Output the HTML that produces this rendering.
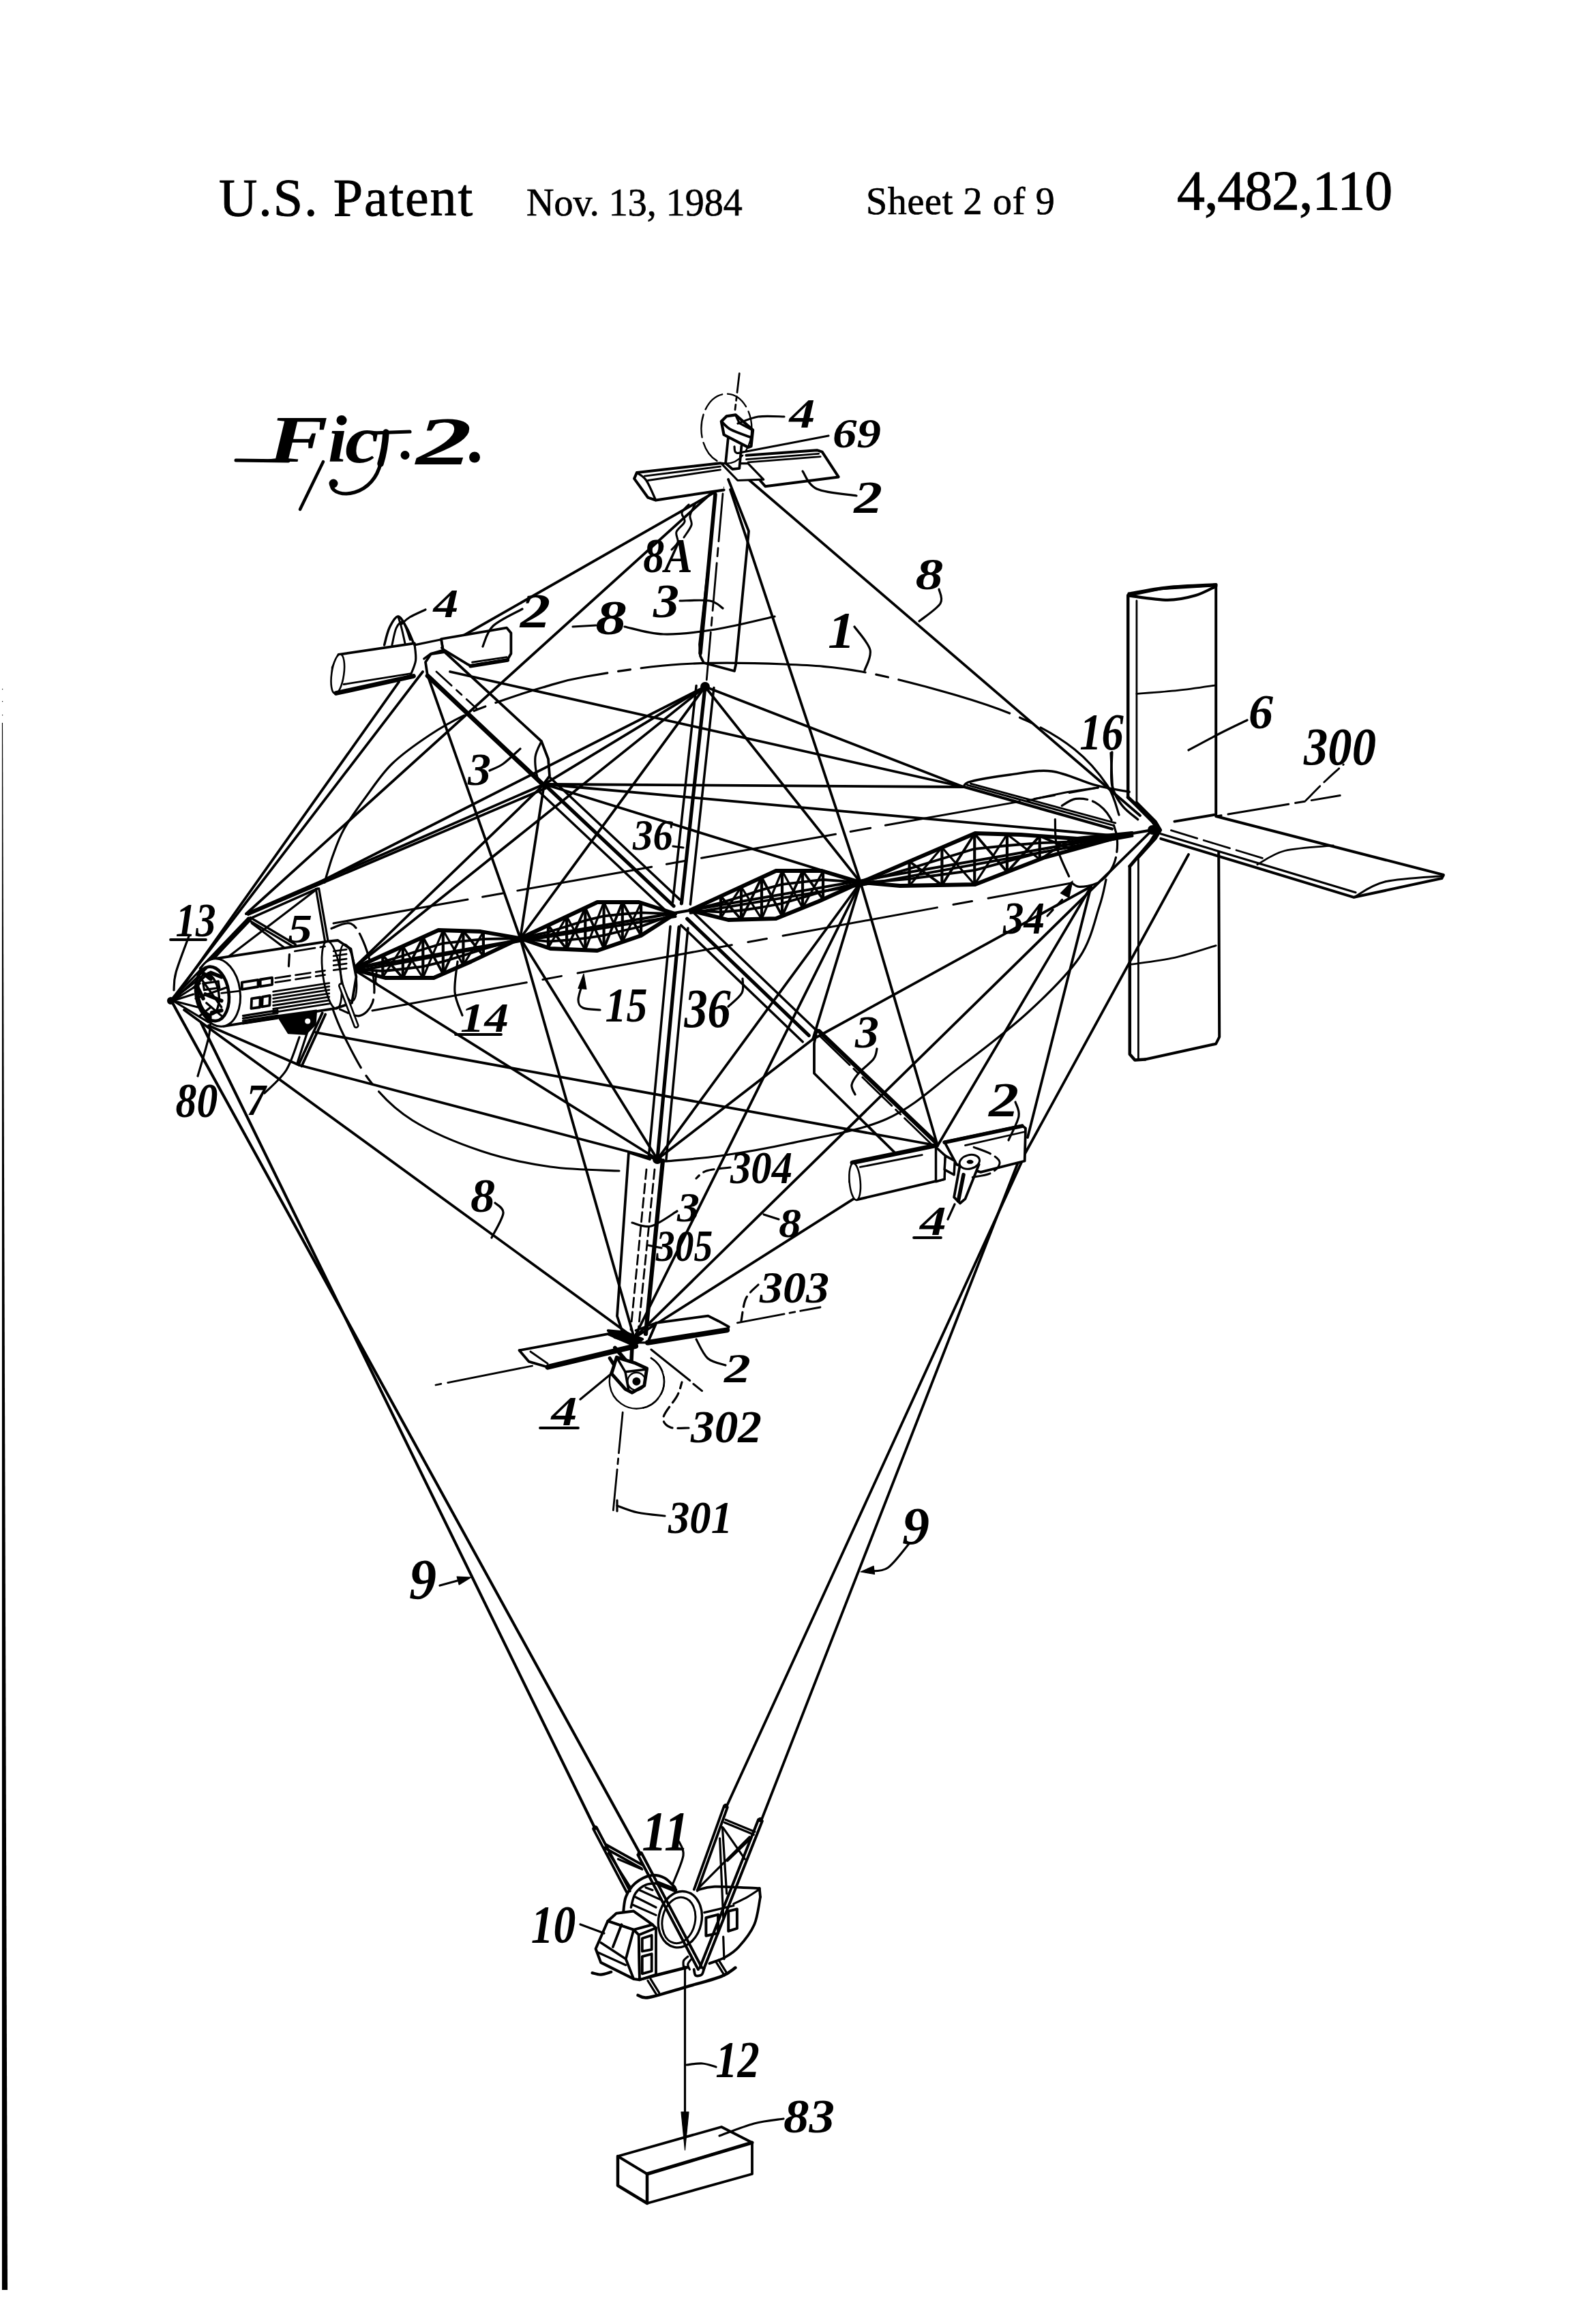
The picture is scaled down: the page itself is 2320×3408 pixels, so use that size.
<!DOCTYPE html>
<html><head><meta charset="utf-8"><title>US 4,482,110 Sheet 2</title>
<style>
html,body{margin:0;padding:0;background:#fff;}
body{width:2320px;height:3408px;position:relative;overflow:hidden;font-family:"Liberation Serif",serif;}
svg{position:absolute;left:0;top:0;}
svg text{font-family:"Liberation Serif",serif;fill:#000;stroke:none;}
.h{position:absolute;white-space:nowrap;color:#000;line-height:1;}
</style></head><body>

<div class="h" id="h1" style="left:321px;top:251px;font-size:78px;letter-spacing:1.9px;-webkit-text-stroke:0.9px #000;">U.S. Patent</div>
<div class="h" id="h2" style="left:772px;top:269px;font-size:56px;-webkit-text-stroke:0.7px #000;">Nov. 13, 1984</div>
<div class="h" id="h3" style="left:1270px;top:267px;font-size:56px;letter-spacing:0.7px;-webkit-text-stroke:0.7px #000;">Sheet 2 of 9</div>
<div class="h" id="h4" style="left:1726px;top:239px;font-size:82px;letter-spacing:-1.1px;-webkit-text-stroke:0.9px #000;">4,482,110</div>

<svg width="2320" height="3408" viewBox="0 0 2320 3408" fill="none" stroke="#000" stroke-linecap="round" stroke-linejoin="round">
<line x1="1060.0" y1="715.0" x2="648.0" y2="950.0" stroke-width="3.8" />
<line x1="1094.0" y1="700.0" x2="1672.0" y2="1196.0" stroke-width="3.8" />
<line x1="1050.0" y1="717.0" x2="361.0" y2="1340.0" stroke-width="3.8" />
<line x1="620.0" y1="985.0" x2="251.0" y2="1467.0" stroke-width="3.8" />
<line x1="585.0" y1="1000.0" x2="262.0" y2="1455.0" stroke-width="3.8" />
<line x1="930.0" y1="1962.0" x2="270.0" y2="1481.0" stroke-width="3.8" />
<line x1="1375.0" y1="1680.0" x2="463.0" y2="1514.0" stroke-width="3.8" />
<line x1="660.0" y1="985.0" x2="1413.0" y2="1154.0" stroke-width="3.8" />
<line x1="930.0" y1="1962.0" x2="1690.0" y2="1217.0" stroke-width="3.8" />
<line x1="1375.0" y1="1680.0" x2="1600.0" y2="1300.0" stroke-width="3.8" />
<line x1="627.0" y1="990.0" x2="763.0" y2="1376.0" stroke-width="3.8" />
<line x1="763.0" y1="1376.0" x2="930.0" y2="1962.0" stroke-width="3.8" />
<line x1="1071.0" y1="718.0" x2="1262.0" y2="1294.0" stroke-width="3.8" />
<line x1="1262.0" y1="1294.0" x2="1375.0" y2="1680.0" stroke-width="3.8" />
<line x1="930.0" y1="1962.0" x2="1375.0" y2="1680.0" stroke-width="3.8" />
<line x1="1034.0" y1="1007.0" x2="763.0" y2="1376.0" stroke-width="3.8" />
<line x1="1034.0" y1="1007.0" x2="1262.0" y2="1294.0" stroke-width="3.8" />
<line x1="798.0" y1="1150.0" x2="763.0" y2="1376.0" stroke-width="3.8" />
<line x1="798.0" y1="1150.0" x2="1262.0" y2="1294.0" stroke-width="3.8" />
<line x1="964.0" y1="1700.0" x2="763.0" y2="1376.0" stroke-width="3.8" />
<line x1="964.0" y1="1700.0" x2="1262.0" y2="1294.0" stroke-width="3.8" />
<line x1="1192.0" y1="1524.0" x2="1262.0" y2="1294.0" stroke-width="3.8" />
<line x1="1034.0" y1="1007.0" x2="798.0" y2="1150.0" stroke-width="3.8" />
<line x1="964.0" y1="1700.0" x2="1192.0" y2="1524.0" stroke-width="3.8" />
<line x1="1034.0" y1="1007.0" x2="1413.0" y2="1154.0" stroke-width="3.8" />
<line x1="798.0" y1="1150.0" x2="1413.0" y2="1154.0" stroke-width="3.8" />
<line x1="798.0" y1="1150.0" x2="1640.0" y2="1226.0" stroke-width="3.8" />
<line x1="1192.0" y1="1524.0" x2="1600.0" y2="1300.0" stroke-width="3.8" />
<line x1="1034.0" y1="1007.0" x2="468.0" y2="1294.0" stroke-width="3.8" />
<line x1="1034.0" y1="1007.0" x2="517.0" y2="1421.0" stroke-width="3.8" />
<line x1="798.0" y1="1150.0" x2="517.0" y2="1421.0" stroke-width="3.8" />
<line x1="964.0" y1="1700.0" x2="439.0" y2="1562.0" stroke-width="3.8" />
<line x1="306.0" y1="1504.0" x2="439.0" y2="1562.0" stroke-width="3.8" />
<line x1="930.0" y1="1962.0" x2="1262.0" y2="1294.0" stroke-width="3.8" />
<line x1="517.0" y1="1421.0" x2="964.0" y2="1700.0" stroke-width="3.8" />
<line x1="798.0" y1="1150.0" x2="361.0" y2="1340.0" stroke-width="3.8" />
<line x1="800.0" y1="1156.0" x2="364.0" y2="1341.0" stroke-width="3.8" />
<path d="M476.0,1294.0 C478.0,1287.5 483.2,1268.2 488.0,1255.0 C492.8,1241.8 496.8,1229.5 505.0,1215.0 C513.2,1200.5 525.3,1183.8 537.0,1168.0 C548.7,1152.2 559.5,1135.0 575.0,1120.0 C590.5,1105.0 611.7,1090.2 630.0,1078.0 C648.3,1065.8 666.7,1055.7 685.0,1047.0 C703.3,1038.3 721.5,1032.5 740.0,1026.0 C758.5,1019.5 776.0,1013.7 796.0,1008.0 C816.0,1002.3 826.3,997.7 860.0,992.0 C893.7,986.3 949.7,977.0 998.0,974.0 C1046.3,971.0 1105.7,972.2 1150.0,974.0 C1194.3,975.8 1221.7,977.3 1264.0,985.0 C1306.3,992.7 1364.0,1008.2 1404.0,1020.0 C1444.0,1031.8 1475.3,1042.8 1504.0,1056.0 C1532.7,1069.2 1556.0,1083.0 1576.0,1099.0 C1596.0,1115.0 1613.2,1136.0 1624.0,1152.0 C1634.8,1168.0 1638.2,1187.8 1641.0,1195.0" stroke-width="3.2" fill="none" stroke-dasharray="330 16 18 16 170 16 18 16"/>
<path d="M483.0,1466.0 C486.3,1474.3 492.8,1495.8 503.0,1516.0 C513.2,1536.2 527.0,1565.8 544.0,1587.0 C561.0,1608.2 578.0,1626.2 605.0,1643.0 C632.0,1659.8 672.3,1676.7 706.0,1688.0 C739.7,1699.3 773.3,1706.2 807.0,1711.0 C840.7,1715.8 891.2,1716.0 908.0,1717.0" stroke-width="3.2" fill="none" stroke-dasharray="110 14 16 14 600"/>
<path d="M975.0,1703.0 C988.5,1701.7 1025.7,1699.3 1056.0,1695.0 C1086.3,1690.7 1116.3,1686.0 1157.0,1677.0 C1197.7,1668.0 1258.5,1659.5 1300.0,1641.0 C1341.5,1622.5 1371.5,1592.0 1406.0,1566.0 C1440.5,1540.0 1477.5,1512.0 1507.0,1485.0 C1536.5,1458.0 1565.5,1429.8 1583.0,1404.0 C1600.5,1378.2 1605.5,1349.0 1612.0,1330.0 C1618.5,1311.0 1620.3,1296.7 1622.0,1290.0" stroke-width="3.2" fill="none" />
<line x1="489.0" y1="1354.0" x2="1610.0" y2="1155.0" stroke-width="3.0" stroke-dasharray="200 22 30 22"/>
<line x1="546.0" y1="1482.0" x2="1571.0" y2="1295.0" stroke-width="3.0" stroke-dasharray="230 24 28 24"/>
<line x1="517.0" y1="1421.0" x2="1690.0" y2="1217.0" stroke-width="4.0" />
<path d="M517.0,1421.0 L643.0,1364.0 L705.0,1366.0 L763.0,1376.0" stroke-width="5.8" fill="none" />
<path d="M517.0,1421.0 L565.0,1434.0 L636.0,1434.0 L691.0,1410.0 L763.0,1376.0" stroke-width="5.8" fill="none" />
<line x1="517.7" y1="1424.9" x2="763.7" y2="1379.9" stroke-width="3.8" />
<line x1="561.3" y1="1401.0" x2="561.3" y2="1433.0" stroke-width="4.2" />
<line x1="590.8" y1="1387.6" x2="590.8" y2="1434.0" stroke-width="4.2" />
<line x1="561.3" y1="1401.0" x2="590.8" y2="1434.0" stroke-width="3.8" />
<line x1="561.3" y1="1433.0" x2="590.8" y2="1387.6" stroke-width="3.2" />
<line x1="620.3" y1="1374.3" x2="620.3" y2="1434.0" stroke-width="4.2" />
<line x1="590.8" y1="1434.0" x2="620.3" y2="1374.3" stroke-width="3.8" />
<line x1="590.8" y1="1387.6" x2="620.3" y2="1434.0" stroke-width="3.2" />
<line x1="649.8" y1="1364.2" x2="649.8" y2="1428.0" stroke-width="4.2" />
<line x1="620.3" y1="1374.3" x2="649.8" y2="1428.0" stroke-width="3.8" />
<line x1="620.3" y1="1434.0" x2="649.8" y2="1364.2" stroke-width="3.2" />
<line x1="679.4" y1="1365.2" x2="679.4" y2="1415.1" stroke-width="4.2" />
<line x1="649.8" y1="1428.0" x2="679.4" y2="1365.2" stroke-width="3.8" />
<line x1="649.8" y1="1364.2" x2="679.4" y2="1415.1" stroke-width="3.2" />
<line x1="708.9" y1="1366.7" x2="708.9" y2="1401.6" stroke-width="4.2" />
<line x1="679.4" y1="1365.2" x2="708.9" y2="1401.6" stroke-width="3.8" />
<line x1="679.4" y1="1415.1" x2="708.9" y2="1366.7" stroke-width="3.2" />
<path d="M517.0,1421.0 L541.6,1415.2 L561.3,1410.6 L590.8,1401.5 L620.3,1392.2 L649.8,1383.3 L679.4,1380.1 L708.9,1377.1 L738.4,1376.5 L763.0,1376.0" stroke-width="3.8" fill="none" />
<path d="M517.0,1421.0 L541.6,1422.7 L561.3,1424.0 L590.8,1421.0 L620.3,1417.3 L649.8,1410.1 L679.4,1401.1 L708.9,1391.8 L738.4,1383.2 L763.0,1376.0" stroke-width="3.8" fill="none" />
<path d="M763.0,1376.0 L876.0,1323.0 L937.0,1323.0 L990.0,1340.0" stroke-width="5.8" fill="none" />
<path d="M763.0,1376.0 L807.0,1391.0 L876.0,1394.0 L940.0,1372.0 L990.0,1340.0" stroke-width="5.8" fill="none" />
<line x1="763.6" y1="1380.0" x2="990.6" y2="1344.0" stroke-width="3.8" />
<line x1="803.9" y1="1356.8" x2="803.9" y2="1389.9" stroke-width="4.2" />
<line x1="831.1" y1="1344.1" x2="831.1" y2="1392.0" stroke-width="4.2" />
<line x1="803.9" y1="1356.8" x2="831.1" y2="1392.0" stroke-width="3.8" />
<line x1="803.9" y1="1389.9" x2="831.1" y2="1344.1" stroke-width="3.2" />
<line x1="858.3" y1="1331.3" x2="858.3" y2="1393.2" stroke-width="4.2" />
<line x1="831.1" y1="1392.0" x2="858.3" y2="1331.3" stroke-width="3.8" />
<line x1="831.1" y1="1344.1" x2="858.3" y2="1393.2" stroke-width="3.2" />
<line x1="885.6" y1="1323.0" x2="885.6" y2="1390.7" stroke-width="4.2" />
<line x1="858.3" y1="1331.3" x2="885.6" y2="1390.7" stroke-width="3.8" />
<line x1="858.3" y1="1393.2" x2="885.6" y2="1323.0" stroke-width="3.2" />
<line x1="912.8" y1="1323.0" x2="912.8" y2="1381.3" stroke-width="4.2" />
<line x1="885.6" y1="1390.7" x2="912.8" y2="1323.0" stroke-width="3.8" />
<line x1="885.6" y1="1323.0" x2="912.8" y2="1381.3" stroke-width="3.2" />
<line x1="940.1" y1="1324.0" x2="940.1" y2="1372.0" stroke-width="4.2" />
<line x1="912.8" y1="1323.0" x2="940.1" y2="1372.0" stroke-width="3.8" />
<line x1="912.8" y1="1381.3" x2="940.1" y2="1324.0" stroke-width="3.2" />
<path d="M763.0,1376.0 L785.7,1370.9 L803.9,1366.8 L831.1,1358.5 L858.3,1349.9 L885.6,1343.3 L912.8,1340.5 L940.1,1338.4 L967.3,1339.3 L990.0,1340.0" stroke-width="3.8" fill="none" />
<path d="M763.0,1376.0 L785.7,1378.6 L803.9,1380.7 L831.1,1378.6 L858.3,1375.9 L885.6,1371.7 L912.8,1365.0 L940.1,1358.5 L967.3,1348.4 L990.0,1340.0" stroke-width="3.8" fill="none" />
<path d="M1012.0,1335.0 L1138.0,1277.0 L1205.0,1277.0 L1262.0,1294.0" stroke-width="5.8" fill="none" />
<path d="M1012.0,1335.0 L1068.0,1349.0 L1138.0,1347.0 L1200.0,1322.0 L1262.0,1294.0" stroke-width="5.8" fill="none" />
<line x1="1012.6" y1="1338.9" x2="1262.6" y2="1297.9" stroke-width="3.8" />
<line x1="1057.0" y1="1314.3" x2="1057.0" y2="1346.2" stroke-width="4.2" />
<line x1="1087.0" y1="1300.5" x2="1087.0" y2="1348.5" stroke-width="4.2" />
<line x1="1057.0" y1="1314.3" x2="1087.0" y2="1348.5" stroke-width="3.8" />
<line x1="1057.0" y1="1346.2" x2="1087.0" y2="1300.5" stroke-width="3.2" />
<line x1="1117.0" y1="1286.7" x2="1117.0" y2="1347.6" stroke-width="4.2" />
<line x1="1087.0" y1="1348.5" x2="1117.0" y2="1286.7" stroke-width="3.8" />
<line x1="1087.0" y1="1300.5" x2="1117.0" y2="1347.6" stroke-width="3.2" />
<line x1="1147.0" y1="1277.0" x2="1147.0" y2="1343.4" stroke-width="4.2" />
<line x1="1117.0" y1="1286.7" x2="1147.0" y2="1343.4" stroke-width="3.8" />
<line x1="1117.0" y1="1347.6" x2="1147.0" y2="1277.0" stroke-width="3.2" />
<line x1="1177.0" y1="1277.0" x2="1177.0" y2="1331.3" stroke-width="4.2" />
<line x1="1147.0" y1="1343.4" x2="1177.0" y2="1277.0" stroke-width="3.8" />
<line x1="1147.0" y1="1277.0" x2="1177.0" y2="1331.3" stroke-width="3.2" />
<line x1="1207.0" y1="1277.6" x2="1207.0" y2="1318.8" stroke-width="4.2" />
<line x1="1177.0" y1="1277.0" x2="1207.0" y2="1318.8" stroke-width="3.8" />
<line x1="1177.0" y1="1331.3" x2="1207.0" y2="1277.6" stroke-width="3.2" />
<path d="M1012.0,1335.0 L1037.0,1328.8 L1057.0,1323.9 L1087.0,1314.9 L1117.0,1304.9 L1147.0,1296.9 L1177.0,1293.3 L1207.0,1290.0 L1237.0,1292.2 L1262.0,1294.0" stroke-width="3.8" fill="none" />
<path d="M1012.0,1335.0 L1037.0,1336.3 L1057.0,1337.3 L1087.0,1335.0 L1117.0,1330.5 L1147.0,1324.8 L1177.0,1316.1 L1207.0,1307.3 L1237.0,1300.0 L1262.0,1294.0" stroke-width="3.8" fill="none" />
<path d="M1262.0,1294.0 L1430.0,1222.0 L1497.0,1224.0 L1580.0,1230.0 L1660.0,1222.0" stroke-width="5.8" fill="none" />
<path d="M1262.0,1294.0 L1320.0,1299.0 L1430.0,1297.0 L1530.0,1258.0 L1660.0,1222.0" stroke-width="5.8" fill="none" />
<line x1="1262.7" y1="1297.9" x2="1660.7" y2="1225.9" stroke-width="3.8" />
<line x1="1333.6" y1="1263.3" x2="1333.6" y2="1298.8" stroke-width="4.2" />
<line x1="1381.4" y1="1242.8" x2="1381.4" y2="1297.9" stroke-width="4.2" />
<line x1="1333.6" y1="1263.3" x2="1381.4" y2="1297.9" stroke-width="3.8" />
<line x1="1333.6" y1="1298.8" x2="1381.4" y2="1242.8" stroke-width="3.2" />
<line x1="1429.2" y1="1222.4" x2="1429.2" y2="1297.0" stroke-width="4.2" />
<line x1="1381.4" y1="1297.9" x2="1429.2" y2="1222.4" stroke-width="3.8" />
<line x1="1381.4" y1="1242.8" x2="1429.2" y2="1297.0" stroke-width="3.2" />
<line x1="1476.9" y1="1223.4" x2="1476.9" y2="1278.7" stroke-width="4.2" />
<line x1="1429.2" y1="1222.4" x2="1476.9" y2="1278.7" stroke-width="3.8" />
<line x1="1429.2" y1="1297.0" x2="1476.9" y2="1223.4" stroke-width="3.2" />
<line x1="1524.7" y1="1226.0" x2="1524.7" y2="1260.1" stroke-width="4.2" />
<line x1="1476.9" y1="1278.7" x2="1524.7" y2="1226.0" stroke-width="3.8" />
<line x1="1476.9" y1="1223.4" x2="1524.7" y2="1260.1" stroke-width="3.2" />
<line x1="1572.4" y1="1229.5" x2="1572.4" y2="1246.2" stroke-width="4.2" />
<line x1="1524.7" y1="1226.0" x2="1572.4" y2="1246.2" stroke-width="3.8" />
<line x1="1524.7" y1="1260.1" x2="1572.4" y2="1229.5" stroke-width="3.2" />
<path d="M1262.0,1294.0 L1301.8,1283.1 L1333.6,1273.9 L1381.4,1259.3 L1429.2,1244.8 L1476.9,1240.0 L1524.7,1236.2 L1572.4,1234.5 L1620.2,1228.1 L1660.0,1222.0" stroke-width="3.8" fill="none" />
<path d="M1262.0,1294.0 L1301.8,1291.7 L1333.6,1288.8 L1381.4,1282.5 L1429.2,1276.1 L1476.9,1263.2 L1524.7,1250.5 L1572.4,1241.5 L1620.2,1231.0 L1660.0,1222.0" stroke-width="3.8" fill="none" />
<line x1="986.5" y1="1323.4" x2="1021.1" y2="1005.6" stroke-width="3.5" />
<line x1="1012.4" y1="1326.2" x2="1046.9" y2="1008.4" stroke-width="3.5" />
<line x1="999.4" y1="1324.8" x2="1034.0" y2="1007.0" stroke-width="5.2" />
<line x1="979.1" y1="1338.1" x2="789.1" y2="1159.5" stroke-width="3.5" />
<line x1="996.9" y1="1319.1" x2="806.9" y2="1140.5" stroke-width="3.5" />
<line x1="988.0" y1="1328.6" x2="798.0" y2="1150.0" stroke-width="5.2" />
<line x1="1008.9" y1="1360.9" x2="976.9" y2="1701.2" stroke-width="3.5" />
<line x1="983.0" y1="1358.5" x2="951.1" y2="1698.8" stroke-width="3.5" />
<line x1="996.0" y1="1359.7" x2="964.0" y2="1700.0" stroke-width="5.2" />
<line x1="1016.7" y1="1337.9" x2="1195.2" y2="1509.0" stroke-width="3.5" />
<line x1="998.7" y1="1356.7" x2="1177.2" y2="1527.8" stroke-width="3.5" />
<line x1="1007.7" y1="1347.3" x2="1186.2" y2="1518.4" stroke-width="5.2" />
<circle cx="1034.0" cy="1007.0" r="7" fill="#000" stroke="none"/>
<circle cx="964.0" cy="1700.0" r="7" fill="#000" stroke="none"/>
<line x1="295.0" y1="1500.0" x2="872.0" y2="2680.0" stroke-width="4.1" />
<line x1="251.0" y1="1467.0" x2="938.0" y2="2717.0" stroke-width="4.1" />
<line x1="1501.0" y1="1698.0" x2="1066.0" y2="2648.0" stroke-width="3.8" />
<line x1="1494.0" y1="1702.0" x2="1117.0" y2="2668.0" stroke-width="3.8" />
<line x1="1743.0" y1="1253.0" x2="1503.0" y2="1692.0" stroke-width="3.8" />
<line x1="1600.0" y1="1300.0" x2="1507.0" y2="1668.0" stroke-width="3.8" />
<path d="M1049.0,725.0 L1040.0,820.0 L1026.0,945.0 L1027.0,962.0 L1032.0,972.0 L1077.0,984.0 L1079.0,975.0 L1098.0,779.0 L1068.0,703.0" stroke-width="3.8" fill="none" />
<line x1="1049.0" y1="725.0" x2="1027.0" y2="958.0" stroke-width="5.6" />
<line x1="1060.0" y1="724.0" x2="1036.0" y2="1000.0" stroke-width="2.8" stroke-dasharray="70 10 12 10"/>
<path d="M627.0,991.0 L624.0,971.0 L632.0,959.0 L652.0,956.0 L794.0,1087.0 L804.0,1113.0 L806.0,1138.0 L797.0,1150.0" stroke-width="3.8" fill="none" />
<path d="M794.0,1087.0 C792.5,1090.8 786.0,1101.2 785.0,1110.0 C784.0,1118.8 786.0,1133.0 788.0,1140.0 C790.0,1147.0 795.5,1150.0 797.0,1152.0" stroke-width="3.2" fill="none" />
<line x1="627.0" y1="991.0" x2="799.0" y2="1153.0" stroke-width="6.7" />
<line x1="640.0" y1="985.0" x2="700.0" y2="1040.0" stroke-width="2.8" stroke-dasharray="30 10 10 10"/>
<path d="M953.0,1700.0 L922.0,1690.0 L905.0,1930.0 L912.0,1951.0" stroke-width="3.8" fill="none" />
<line x1="972.0" y1="1702.0" x2="947.0" y2="1956.0" stroke-width="6.2" />
<line x1="948.0" y1="1715.0" x2="925.0" y2="1950.0" stroke-width="2.8" stroke-dasharray="14 7"/>
<line x1="960.0" y1="1715.0" x2="936.0" y2="1952.0" stroke-width="2.8" stroke-dasharray="14 7"/>
<path d="M1201.0,1512.0 L1198.0,1510.0 L1194.0,1530.0 L1194.0,1574.0 L1312.0,1690.0" stroke-width="3.8" fill="none" />
<line x1="1201.0" y1="1512.0" x2="1372.0" y2="1675.0" stroke-width="6.2" />
<line x1="1203.0" y1="1520.0" x2="1365.0" y2="1677.0" stroke-width="2.8" stroke-dasharray="60 8 10 8"/>
<path d="M1056.5,679.2 L933.9,693.1 L930.1,701.9 L950.3,729.7 L961.7,733.5 L1061.6,718.4" stroke-width="4.0" fill="#fff" />
<path d="M933.9,693.1 C936.2,695.0 943.2,697.7 947.8,704.5 C952.4,711.2 959.4,728.7 961.7,733.5" stroke-width="3.2" fill="none" />
<line x1="945.3" y1="698.1" x2="1056.5" y2="684.2" stroke-width="2.8" />
<line x1="950.3" y1="704.5" x2="1056.5" y2="688.8" stroke-width="2.8" />
<path d="M1094.5,667.8 L1198.1,660.2 L1205.7,662.7 L1229.7,699.4 L1122.3,713.3 L1105.8,694.3" stroke-width="4.0" fill="#fff" />
<line x1="1094.5" y1="673.6" x2="1200.7" y2="665.3" stroke-width="2.8" />
<line x1="1097.0" y1="677.9" x2="1203.2" y2="669.6" stroke-width="2.8" />
<path d="M1057.8,679.7 L1081.8,704.5 L1119.7,703.2 L1097.0,679.7 Z" stroke-width="3.2" fill="#fff" />
<path d="M1067.9,641.3 L1064.1,679.2 L1074.2,688.0 L1084.3,686.8 L1087.4,653.9" stroke-width="3.8" fill="#fff" />
<path d="M1057.8,618.0 L1065.4,610.4 L1078.8,608.4 L1104.1,630.6 L1101.5,654.4 L1097.0,655.9 L1061.6,637.5 Z" stroke-width="4.2" fill="#fff" />
<path d="M1058.6,618.5 C1060.8,620.4 1064.7,626.1 1071.7,629.9 C1078.7,633.7 1095.9,639.4 1100.8,641.3" stroke-width="3.8" fill="none" />
<path d="M1078.8,608.9 L1084.3,620.5 L1104.1,631.1" stroke-width="3.2" fill="none" />
<ellipse cx="1065.4" cy="628.6" rx="37" ry="51" stroke-width="2.4" stroke-dasharray="34 8" fill="none"/>
<line x1="1084.3" y1="547.7" x2="1078.0" y2="600.8" stroke-width="2.8" stroke-dasharray="28 6 6 6"/>
<path d="M563.6,945.9 C564.8,941.6 567.8,927.5 571.1,920.6 C574.5,913.6 579.6,904.1 583.8,904.1 C588.0,904.1 592.6,914.0 596.4,920.6 C600.2,927.1 604.9,939.5 606.5,943.3" stroke-width="3.5" fill="none" />
<path d="M574.9,945.9 C576.0,941.6 578.5,926.0 581.3,920.6 C584.0,915.1 588.0,910.0 591.4,913.0 C594.7,915.9 599.8,934.1 601.5,938.3" stroke-width="3.0" fill="none" />
<path d="M583.8,904.1 C584.6,906.9 587.2,914.0 588.8,920.6 C590.5,927.1 593.1,939.5 593.9,943.3" stroke-width="3.0" fill="none" />
<path d="M607.8,943.3 L496.5,959.8 L487.7,978.7 L487.2,1001.5 L492.8,1016.6 L606.5,991.4" stroke-width="3.8" fill="#fff" />
<ellipse cx="495.3" cy="988.3" rx="9" ry="29" transform="rotate(8 495.3 988.3)" stroke-width="2.6" fill="#fff"/>
<line x1="492.8" y1="1016.6" x2="606.5" y2="991.4" stroke-width="6.7" />
<line x1="504.1" y1="1003.5" x2="601.5" y2="987.8" stroke-width="2.8" />
<path d="M607.8,943.3 C608.1,947.5 610.6,960.6 609.6,968.6 C608.5,976.6 602.8,987.6 601.5,991.4" stroke-width="3.2" fill="none" />
<path d="M647.0,937.0 L743.1,920.6 L749.4,928.2 L749.4,958.5 L744.3,967.3 L690.0,976.2 L684.9,973.7 L649.5,952.2 Z" stroke-width="3.8" fill="#fff" />
<line x1="744.3" y1="967.9" x2="690.0" y2="976.7" stroke-width="5.6" />
<line x1="692.5" y1="971.1" x2="743.1" y2="963.6" stroke-width="2.8" />
<path d="M607.8,945.9 L647.0,937.8 L650.0,953.4 L631.8,958.5 L621.7,966.1" stroke-width="3.2" fill="none" />
<path d="M891.7,1956.2 L761.5,1980.2 L775.4,1996.6 L803.2,2004.7 L932.2,1973.9 Z" stroke-width="3.8" fill="#fff" />
<line x1="803.2" y1="2004.7" x2="932.2" y2="1973.9" stroke-width="7.8" />
<line x1="777.9" y1="1982.0" x2="803.2" y2="1999.7" stroke-width="2.8" />
<path d="M962.5,1939.8 L1038.4,1929.6 L1053.5,1937.2 L1068.7,1945.6 L1066.2,1950.4 L949.9,1968.8 Z" stroke-width="3.8" fill="#fff" />
<line x1="949.9" y1="1968.8" x2="1066.2" y2="1950.4" stroke-width="7.8" />
<path d="M891.7,1956.2 L922.0,1968.8 L949.9,1968.8 L962.5,1939.8 L932.2,1951.1" stroke-width="3.2" fill="none" />
<path d="M891.7,1951.1 L901.8,1961.3 L932.2,1971.4 L942.3,1963.8 L917.0,1953.7 Z" stroke-width="3.8" fill="#000" />
<line x1="901.8" y1="1976.4" x2="917.0" y2="1994.1" stroke-width="5.6" />
<line x1="927.1" y1="1971.4" x2="925.8" y2="1999.2" stroke-width="5.6" />
<line x1="894.2" y1="1991.6" x2="906.9" y2="2011.8" stroke-width="5.0" />
<path d="M904.3,1990.3 L932.2,1999.2 L948.6,2006.8 L944.8,2032.0 L927.1,2042.2 L917.0,2037.1 L896.8,2014.3 Z" stroke-width="4.9" fill="#fff" />
<path d="M904.3,1990.3 L917.0,2011.8 L948.6,2008.0" stroke-width="3.5" fill="none" />
<line x1="917.0" y1="2011.8" x2="922.0" y2="2039.6" stroke-width="3.5" />
<circle cx="933.4" cy="2025.7" r="6" fill="#000" stroke="none"/>
<circle cx="933.4" cy="2025.7" r="13" stroke-width="2.4" fill="none"/>
<path d="M901.8,2001.7 A40,40 0 1 0 954.9,1991.6" stroke-width="2.4"/>
<path d="M954.9,1991.6 A40,40 0 0 1 942.3,2064.9" stroke-width="2.4" stroke-dasharray="26 8"/>
<line x1="913.2" y1="2071.2" x2="899.0" y2="2218.0" stroke-width="2.8" stroke-dasharray="60 8 8 8"/>
<line x1="954.9" y1="1979.0" x2="1011.8" y2="2024.5" stroke-width="3.0" />
<line x1="1016.9" y1="2029.5" x2="1029.5" y2="2039.6" stroke-width="3.0" />
<line x1="1081.3" y1="1939.8" x2="1203.0" y2="1917.0" stroke-width="2.8" stroke-dasharray="70 8 8 8"/>
<line x1="639.0" y1="2031.0" x2="780.5" y2="2003.0" stroke-width="2.8" stroke-dasharray="8 10 200"/>
<path d="M1372.5,1679.7 L1249.9,1705.0 L1246.1,1732.8 L1256.2,1759.4 L1385.1,1729.1 Z" stroke-width="3.8" fill="#fff" />
<line x1="1249.9" y1="1705.0" x2="1372.5" y2="1679.7" stroke-width="6.7" />
<line x1="1261.3" y1="1711.4" x2="1352.3" y2="1693.7" stroke-width="2.8" />
<ellipse cx="1253.7" cy="1732.8" rx="8" ry="27" transform="rotate(-5 1253.7 1732.8)" stroke-width="2.6" fill="#fff"/>
<path d="M1385.1,1674.7 L1498.9,1650.7 L1504.0,1654.5 L1502.7,1702.5 L1438.2,1718.9 L1402.8,1707.6 Z" stroke-width="3.8" fill="#fff" />
<line x1="1385.1" y1="1675.2" x2="1498.9" y2="1651.2" stroke-width="5.6" />
<line x1="1415.5" y1="1679.7" x2="1501.5" y2="1660.0" stroke-width="2.8" />
<path d="M1372.5,1682.3 L1372.5,1732.8 L1385.1,1729.1 L1386.4,1694.9 Z" stroke-width="3.5" fill="#fff" />
<path d="M1386.4,1694.9 L1400.3,1702.5 L1399.1,1722.7 L1385.1,1715.1 Z" stroke-width="3.5" fill="#fff" />
<ellipse cx="1421.8" cy="1703.8" rx="14" ry="9" transform="rotate(-15 1421.8 1703.8)" stroke-width="3" fill="#fff"/>
<path d="M1407.9,1707.6 L1399.1,1755.6 L1407.9,1764.5 L1415.5,1758.1 L1435.7,1707.6" stroke-width="3.8" fill="#fff" />
<ellipse cx="1421.8" cy="1703.8" rx="15" ry="10" transform="rotate(-15 1421.8 1703.8)" stroke-width="3" fill="#fff"/>
<ellipse cx="1422.6" cy="1703.8" rx="5" ry="3" fill="#000" stroke="none"/>
<line x1="1413.0" y1="1722.7" x2="1405.4" y2="1760.7" stroke-width="5.6" />
<path d="M1428.1,1682.3 C1432.3,1684.0 1447.1,1688.6 1453.4,1692.4 C1459.7,1696.2 1466.1,1700.4 1466.1,1705.0 C1466.1,1709.7 1460.2,1716.6 1453.4,1720.2 C1446.7,1723.8 1430.2,1725.5 1425.6,1726.5" stroke-width="3.0" fill="none" stroke-dasharray="26 8"/>
<path d="M1654.2,873.3 L1654.2,1169.2 L1694.7,1209.6" stroke-width="4.5" fill="none" />
<path d="M1654.2,873.3 L1702.3,863.2 L1783.2,858.2 L1783.2,1194.4 L1722.5,1204.6" stroke-width="4.0" fill="none" />
<path d="M1654.2,873.3 C1663.9,874.4 1696.0,879.9 1712.4,879.9 C1728.8,879.9 1741.0,876.7 1752.8,873.3 C1764.6,870.0 1778.1,861.9 1783.2,859.7" stroke-width="4.2" fill="none" />
<path d="M1655.8,870.8 C1665.2,869.3 1691.2,863.9 1712.4,861.7 C1733.6,859.5 1771.4,858.3 1783.2,857.6" stroke-width="5.0" fill="none" />
<line x1="1666.9" y1="880.9" x2="1666.9" y2="1176.7" stroke-width="2.8" />
<path d="M1666.9,1017.4 C1677.0,1016.6 1708.2,1014.5 1727.6,1012.4 C1746.9,1010.3 1773.9,1006.1 1783.2,1004.8" stroke-width="2.8" fill="none" />
<path d="M1656.8,1270.3 L1656.8,1545.9 L1664.3,1554.5 L1679.5,1553.5" stroke-width="4.5" fill="none" />
<path d="M1787.2,1250.1 L1788.2,1520.6 L1783.2,1530.7 L1679.5,1553.5" stroke-width="4.0" fill="none" />
<line x1="1669.4" y1="1257.6" x2="1669.4" y2="1553.5" stroke-width="2.8" />
<path d="M1656.8,1414.4 C1667.7,1412.7 1701.4,1408.9 1722.5,1404.3 C1743.6,1399.7 1773.1,1389.5 1783.2,1386.6" stroke-width="2.8" fill="none" />
<path d="M1654.2,1169.2 L1687.1,1199.5 L1698.2,1217.2 L1687.1,1234.9 L1656.8,1270.3" stroke-width="5.0" fill="none" />
<path d="M1666.9,1176.7 L1694.7,1204.6 L1702.3,1217.2 L1694.7,1229.8 L1669.4,1257.6" stroke-width="3.8" fill="none" />
<path d="M1783.2,1197.0 L2116.9,1282.9 L2114.4,1288.0 L1985.5,1315.8 L1702.3,1229.8" stroke-width="4.0" fill="none" />
<line x1="1702.3" y1="1222.8" x2="1988.0" y2="1308.7" stroke-width="3.2" />
<line x1="1717.4" y1="1217.7" x2="1854.0" y2="1259.2" stroke-width="2.8" stroke-dasharray="40 10"/>
<path d="M1985.5,1315.8 C1993.0,1312.0 2009.1,1298.3 2031.0,1293.0 C2052.9,1287.8 2102.6,1285.9 2116.9,1284.5" stroke-width="3.0" fill="none" />
<path d="M1843.9,1267.8 C1850.6,1264.4 1865.8,1252.2 1884.3,1247.5 C1902.9,1242.9 1943.3,1241.2 1955.1,1239.9" stroke-width="2.8" fill="none" />
<line x1="1783.2" y1="1197.0" x2="1965.2" y2="1166.6" stroke-width="3.0" stroke-dasharray="8 10 90 10 14 10 200"/>
<path d="M1914.7,1174.2 C1919.7,1169.2 1935.7,1152.7 1945.0,1143.9 C1954.3,1135.0 1966.1,1124.9 1970.3,1121.1" stroke-width="2.8" fill="none" stroke-dasharray="30 8"/>
<circle cx="1690" cy="1217" r="7" fill="#000" stroke="none"/>
<path d="M1413.3,1153.7 C1415.0,1152.4 1412.1,1149.0 1423.4,1146.1 C1434.8,1143.1 1461.8,1138.5 1481.6,1136.0 C1501.4,1133.4 1521.6,1128.4 1542.3,1130.9 C1562.9,1133.4 1586.5,1146.1 1605.5,1151.1 C1624.5,1156.2 1647.6,1159.6 1656.1,1161.3" stroke-width="3.5" fill="none" />
<line x1="1413.3" y1="1153.7" x2="1630.8" y2="1215.6" stroke-width="4.2" />
<line x1="1418.4" y1="1151.1" x2="1633.3" y2="1210.6" stroke-width="3.0" />
<line x1="1423.4" y1="1149.1" x2="1635.8" y2="1206.8" stroke-width="2.8" />
<path d="M1506.9,1173.9 C1517.0,1171.8 1550.3,1164.4 1567.6,1161.3 C1584.8,1158.1 1603.4,1156.0 1610.5,1154.9" stroke-width="3.0" fill="none" />
<path d="M1630.8,1103.1 C1630.8,1111.1 1628.2,1138.1 1630.8,1151.1 C1633.3,1164.2 1639.6,1173.1 1645.9,1181.5 C1652.3,1189.9 1664.9,1198.3 1668.7,1201.7" stroke-width="3.5" fill="none" />
<path d="M1557.4,1181.5 C1560.8,1179.8 1569.7,1172.2 1577.7,1171.4 C1585.7,1170.5 1597.1,1171.8 1605.5,1176.4 C1613.9,1181.1 1622.8,1189.9 1628.2,1199.2 C1633.7,1208.4 1637.5,1220.7 1638.4,1232.0 C1639.2,1243.4 1637.5,1257.3 1633.3,1267.4 C1629.1,1277.6 1621.5,1287.3 1613.1,1292.7 C1604.6,1298.2 1590.3,1300.7 1582.7,1300.3 C1575.1,1299.9 1570.1,1291.9 1567.6,1290.2" stroke-width="3.2" fill="none" stroke-dasharray="40 8"/>
<path d="M1547.3,1201.7 C1547.8,1208.4 1546.5,1228.3 1549.9,1242.2 C1553.2,1256.1 1564.6,1278.0 1567.6,1285.1" stroke-width="3.2" fill="none" />
<line x1="364.8" y1="1349.3" x2="431.2" y2="1388.8" stroke-width="3.2" />
<line x1="367.0" y1="1345.5" x2="433.4" y2="1385.0" stroke-width="3.2" />
<line x1="364.3" y1="1345.9" x2="293.2" y2="1420.2" stroke-width="3.2" />
<line x1="367.5" y1="1348.9" x2="296.4" y2="1423.2" stroke-width="3.2" />
<line x1="463.3" y1="1303.5" x2="477.5" y2="1385.7" stroke-width="3.2" />
<line x1="467.6" y1="1302.8" x2="481.9" y2="1385.0" stroke-width="3.2" />
<line x1="365.9" y1="1347.4" x2="465.5" y2="1303.2" stroke-width="3.5" />
<line x1="365.9" y1="1347.4" x2="313.8" y2="1405.9" stroke-width="3.2" />
<line x1="369.1" y1="1353.7" x2="419.6" y2="1391.7" stroke-width="3.2" />
<line x1="251.0" y1="1467.0" x2="365.9" y2="1347.4" stroke-width="3.2" />
<line x1="251.0" y1="1467.0" x2="465.5" y2="1303.2" stroke-width="3.2" />
<line x1="472.7" y1="1485.4" x2="437.9" y2="1561.3" stroke-width="3.8" />
<line x1="477.2" y1="1487.5" x2="442.4" y2="1563.4" stroke-width="3.8" />
<line x1="454.4" y1="1502.3" x2="435.4" y2="1560.7" stroke-width="3.2" />
<path d="M315.3,1405.9 L479.7,1380.6 L495.5,1379.0 L514.5,1391.7 L522.4,1432.7 L516.0,1470.7 L492.3,1478.6 L328.0,1504.8 Z" stroke-width="3.8" fill="#fff" />
<path d="M407.0,1489.6 L463.9,1481.7 L462.3,1502.3 L448.1,1516.5 L422.8,1514.9 Z" stroke-width="2.5" fill="#000" />
<circle cx="451.2" cy="1497.5" r="4" fill="#fff" stroke="none"/>
<line x1="400.7" y1="1454.2" x2="482.8" y2="1441.6" stroke-width="2.8" />
<line x1="400.7" y1="1459.3" x2="482.8" y2="1446.6" stroke-width="2.8" />
<line x1="400.7" y1="1464.3" x2="482.8" y2="1451.7" stroke-width="2.8" />
<line x1="400.7" y1="1469.4" x2="482.8" y2="1456.8" stroke-width="2.8" />
<line x1="400.7" y1="1474.5" x2="482.8" y2="1461.8" stroke-width="2.8" />
<line x1="400.7" y1="1479.5" x2="482.8" y2="1466.9" stroke-width="2.8" />
<line x1="400.7" y1="1484.6" x2="482.8" y2="1471.9" stroke-width="2.8" />
<line x1="356.4" y1="1489.6" x2="407.0" y2="1481.7" stroke-width="3.2" />
<line x1="356.4" y1="1493.4" x2="407.0" y2="1485.5" stroke-width="3.2" />
<line x1="356.4" y1="1497.2" x2="407.0" y2="1489.3" stroke-width="3.2" />
<line x1="356.4" y1="1501.0" x2="407.0" y2="1493.1" stroke-width="3.2" />
<path d="M354.8,1440.6 L378.5,1436.9 L378.5,1447.0 L354.8,1450.8 Z" stroke-width="3.8" fill="none" />
<path d="M381.7,1436.5 L399.1,1433.7 L399.1,1443.8 L381.7,1446.6 Z" stroke-width="3.8" fill="none" />
<line x1="403.8" y1="1434.3" x2="476.5" y2="1423.3" stroke-width="2.8" stroke-dasharray="22 8"/>
<line x1="403.8" y1="1440.6" x2="476.5" y2="1429.6" stroke-width="2.8" stroke-dasharray="22 8"/>
<path d="M369.1,1464.3 L381.7,1462.5 L381.1,1477.0 L368.4,1478.9 Z" stroke-width="3.8" fill="none" />
<path d="M384.9,1461.8 L395.9,1459.9 L395.3,1474.5 L384.2,1476.4 Z" stroke-width="3.8" fill="none" />
<line x1="424.4" y1="1399.6" x2="423.4" y2="1416.9" stroke-width="3.2" />
<line x1="432.3" y1="1394.8" x2="476.5" y2="1387.9" stroke-width="2.8" stroke-dasharray="30 8"/>
<ellipse cx="486.6" cy="1429.6" rx="13.0" ry="50.0" transform="rotate(-8.0 486.6 1429.6)" stroke-width="2.8" fill="none" />
<ellipse cx="510.7" cy="1426.4" rx="11.0" ry="42.0" transform="rotate(-8.0 510.7 1426.4)" stroke-width="2.6" fill="none" />
<line x1="489.2" y1="1394.8" x2="508.1" y2="1392.3" stroke-width="2.8" />
<line x1="489.2" y1="1401.8" x2="508.1" y2="1399.2" stroke-width="2.8" />
<line x1="489.2" y1="1408.7" x2="508.1" y2="1406.2" stroke-width="2.8" />
<line x1="489.2" y1="1415.7" x2="508.1" y2="1413.1" stroke-width="2.8" />
<line x1="489.2" y1="1422.6" x2="508.1" y2="1420.1" stroke-width="2.8" />
<ellipse cx="320.1" cy="1455.5" rx="32.0" ry="50.0" transform="rotate(-8.0 320.1 1455.5)" stroke-width="3.0" fill="#fff" />
<ellipse cx="311.5" cy="1457.4" rx="24.0" ry="40.0" transform="rotate(-8.0 311.5 1457.4)" stroke-width="4.6" fill="#fff" />
<ellipse cx="305.9" cy="1458.0" rx="15.0" ry="30.0" transform="rotate(-8.0 305.9 1458.0)" stroke-width="3.4" fill="none" />
<line x1="293.2" y1="1432.7" x2="324.8" y2="1477.0" stroke-width="3.2" />
<line x1="286.9" y1="1464.3" x2="331.1" y2="1448.5" stroke-width="3.2" />
<line x1="298.0" y1="1442.2" x2="320.1" y2="1439.1" stroke-width="3.2" />
<line x1="298.0" y1="1442.2" x2="299.5" y2="1451.7" stroke-width="3.2" />
<line x1="320.1" y1="1439.1" x2="321.7" y2="1448.5" stroke-width="3.2" />
<line x1="299.5" y1="1451.7" x2="321.7" y2="1448.5" stroke-width="3.2" />
<line x1="302.7" y1="1470.7" x2="324.8" y2="1489.6" stroke-width="3.2" />
<line x1="293.2" y1="1489.6" x2="309.0" y2="1477.0" stroke-width="3.2" />
<line x1="283.7" y1="1448.5" x2="305.9" y2="1426.4" stroke-width="3.2" />
<line x1="324.8" y1="1456.4" x2="350.1" y2="1453.3" stroke-width="2.8" />
<line x1="294.8" y1="1424.8" x2="309.0" y2="1435.9" stroke-width="5.6" />
<line x1="290.1" y1="1448.5" x2="298.0" y2="1464.3" stroke-width="5.6" />
<line x1="293.2" y1="1477.0" x2="307.4" y2="1492.8" stroke-width="5.6" />
<line x1="310.6" y1="1484.9" x2="324.8" y2="1481.7" stroke-width="5.6" />
<line x1="309.0" y1="1426.4" x2="324.8" y2="1432.7" stroke-width="5.6" />
<line x1="301.1" y1="1458.0" x2="324.8" y2="1467.5" stroke-width="5.6" />
<circle cx="250.5" cy="1467.5" r="5.5" fill="#000" stroke="none"/>
<line x1="253.7" y1="1467.5" x2="302.7" y2="1420.1" stroke-width="3.0" />
<line x1="253.7" y1="1467.5" x2="293.2" y2="1442.2" stroke-width="3.0" />
<line x1="253.7" y1="1467.5" x2="290.1" y2="1477.0" stroke-width="3.0" />
<line x1="253.7" y1="1467.5" x2="305.9" y2="1499.1" stroke-width="3.0" />
<line x1="253.7" y1="1467.5" x2="283.7" y2="1458.0" stroke-width="3.0" />
<line x1="500.2" y1="1445.4" x2="522.4" y2="1503.9" stroke-width="8.4" />
<line x1="500.2" y1="1445.4" x2="522.4" y2="1503.9" stroke-width="3.1" stroke="#fff"/>
<path d="M486.0,1361.6 C490.7,1360.4 506.5,1350.9 514.5,1354.4 C522.4,1357.8 527.9,1369.1 533.4,1382.2 C538.9,1395.2 545.5,1418.0 547.6,1432.7 C549.7,1447.5 549.5,1461.2 546.1,1470.7 C542.6,1480.2 535.0,1488.1 527.1,1489.6 C519.2,1491.2 503.4,1481.7 498.6,1480.2" stroke-width="3.2" fill="none" stroke-dasharray="40 10"/>
<path d="M552.4,1423.3 C552.1,1425.9 550.8,1435.9 550.8,1439.1 C550.8,1442.2 552.1,1441.7 552.4,1442.2" stroke-width="3.0" fill="none" />
<line x1="870.0" y1="2681.9" x2="919.3" y2="2775.4" stroke-width="3.8" />
<line x1="874.6" y1="2679.5" x2="923.9" y2="2773.0" stroke-width="3.8" />
<line x1="1062.0" y1="2648.2" x2="1017.8" y2="2770.8" stroke-width="3.8" />
<line x1="1066.9" y1="2650.0" x2="1022.6" y2="2772.6" stroke-width="3.8" />
<line x1="886.2" y1="2709.5" x2="940.6" y2="2739.8" stroke-width="3.8" />
<line x1="888.7" y1="2705.0" x2="943.1" y2="2735.3" stroke-width="3.8" />
<line x1="892.5" y1="2717.3" x2="925.4" y2="2769.2" stroke-width="3.2" />
<line x1="906.4" y1="2726.2" x2="941.8" y2="2741.4" stroke-width="3.2" />
<line x1="1062.3" y1="2672.6" x2="1105.3" y2="2690.3" stroke-width="3.2" />
<line x1="1064.0" y1="2668.5" x2="1107.0" y2="2686.2" stroke-width="3.2" />
<line x1="1059.4" y1="2679.4" x2="1065.7" y2="2776.8" stroke-width="3.2" />
<line x1="1099.1" y1="2693.8" x2="1024.0" y2="2769.2" stroke-width="3.2" />
<line x1="1060.7" y1="2680.7" x2="1092.3" y2="2726.2" stroke-width="3.2" />
<line x1="1067.0" y1="2728.7" x2="1101.1" y2="2695.9" stroke-width="3.2" />
<line x1="1055.6" y1="2695.9" x2="1060.7" y2="2812.2" stroke-width="3.2" />
<path d="M1022.7,2771.7 C1026.9,2770.9 1032.8,2767.1 1048.0,2766.6 C1063.2,2766.2 1102.8,2768.8 1113.8,2769.2" stroke-width="3.8" fill="none" />
<path d="M1113.8,2769.2 L1115.0,2781.8" stroke-width="3.8" fill="none" />
<path d="M1115.0,2781.8 C1113.5,2788.6 1111.4,2810.1 1106.2,2822.3 C1100.9,2834.5 1090.6,2847.1 1083.4,2855.1 C1076.2,2863.2 1070.3,2866.3 1063.2,2870.3 C1056.0,2874.3 1044.2,2877.7 1040.4,2879.2" stroke-width="3.8" fill="none" />
<path d="M1075.8,2791.9 C1079.2,2790.2 1089.7,2785.4 1096.1,2781.8 C1102.4,2778.2 1110.8,2772.3 1113.8,2770.4" stroke-width="3.2" fill="none" />
<line x1="1032.8" y1="2804.6" x2="1075.8" y2="2794.5" stroke-width="3.2" />
<path d="M1035.4,2812.2 L1053.1,2807.6 L1053.1,2834.9 L1035.4,2838.7 Z" stroke-width="4.0" fill="none" />
<path d="M1068.2,2802.6 L1080.9,2799.5 L1080.9,2827.8 L1068.2,2831.9 Z" stroke-width="4.0" fill="none" />
<line x1="1060.7" y1="2840.0" x2="1061.9" y2="2872.8" stroke-width="3.2" />
<path d="M914.0,2805.8 C914.6,2801.8 914.9,2789.2 917.8,2781.8 C920.8,2774.4 925.6,2766.9 931.7,2761.6 C937.8,2756.3 947.3,2751.5 954.5,2750.2 C961.6,2749.0 968.8,2751.1 974.7,2754.0 C980.6,2757.0 987.3,2765.6 989.9,2767.9" stroke-width="4.0" fill="none" />
<path d="M925.4,2797.0 C926.4,2793.6 928.1,2782.2 931.7,2776.8 C935.3,2771.3 941.0,2766.6 946.9,2764.1 C952.8,2761.6 963.7,2762.0 967.1,2761.6" stroke-width="3.5" fill="none" />
<line x1="931.7" y1="2781.8" x2="962.0" y2="2797.0" stroke-width="3.2" />
<line x1="927.9" y1="2793.2" x2="962.0" y2="2808.4" stroke-width="3.2" />
<line x1="938.0" y1="2771.7" x2="968.4" y2="2785.6" stroke-width="3.2" />
<line x1="946.9" y1="2767.9" x2="957.0" y2="2771.7" stroke-width="3.2" />
<ellipse cx="997.4" cy="2814.7" rx="31.5" ry="41.5" transform="rotate(12.0 997.4 2814.7)" stroke-width="3.4" fill="#fff" />
<ellipse cx="995.4" cy="2816.0" rx="24.0" ry="34.0" transform="rotate(12.0 995.4 2816.0)" stroke-width="3.0" fill="#fff" />
<line x1="964.6" y1="2761.6" x2="989.9" y2="2771.7" stroke-width="6.7" />
<path d="M891.3,2817.2 L903.9,2805.8 L929.2,2802.6 L957.0,2822.3 L929.2,2829.9 Z" stroke-width="4.0" fill="#fff" />
<path d="M891.3,2817.2 L873.6,2857.7 L881.1,2877.9 L929.2,2901.9 L938.0,2903.2 L936.8,2837.4 L929.2,2829.9 Z" stroke-width="4.0" fill="#fff" />
<line x1="929.2" y1="2829.9" x2="917.8" y2="2872.8" stroke-width="3.8" />
<line x1="917.8" y1="2872.8" x2="929.2" y2="2901.9" stroke-width="3.8" />
<line x1="881.1" y1="2848.8" x2="917.8" y2="2872.8" stroke-width="3.5" />
<line x1="876.1" y1="2862.7" x2="917.8" y2="2881.7" stroke-width="3.2" />
<line x1="911.5" y1="2822.3" x2="898.8" y2="2855.1" stroke-width="3.8" />
<path d="M936.8,2837.4 L962.0,2827.3 L962.0,2895.6 L938.0,2903.2 Z" stroke-width="3.8" fill="#fff" />
<path d="M941.8,2842.5 L955.7,2838.0 L955.7,2858.9 L941.8,2861.5 Z" stroke-width="3.8" fill="none" />
<path d="M941.8,2869.1 L955.7,2865.3 L955.7,2890.5 L941.8,2894.3 Z" stroke-width="3.8" fill="none" />
<line x1="957.0" y1="2822.3" x2="962.0" y2="2827.3" stroke-width="3.8" />
<line x1="938.0" y1="2903.2" x2="1007.6" y2="2885.5" stroke-width="3.8" />
<line x1="962.0" y1="2895.6" x2="1007.6" y2="2884.2" stroke-width="3.0" />
<path d="M935.5,2925.9 C938.2,2926.4 939.9,2931.1 951.9,2929.0 C963.9,2926.9 989.9,2918.4 1007.6,2913.3 C1025.3,2908.2 1046.3,2902.8 1058.1,2898.1 C1069.9,2893.5 1075.0,2887.6 1078.4,2885.5" stroke-width="4.5" fill="none" />
<path d="M868.5,2893.1 C870.6,2893.5 876.5,2895.8 881.1,2895.6 C885.8,2895.4 893.8,2892.4 896.3,2891.8" stroke-width="4.2" fill="none" />
<line x1="949.9" y1="2904.5" x2="962.5" y2="2924.7" stroke-width="3.2" />
<line x1="954.0" y1="2901.9" x2="966.6" y2="2922.1" stroke-width="3.2" />
<line x1="1049.8" y1="2876.6" x2="1062.4" y2="2896.9" stroke-width="3.2" />
<line x1="1053.8" y1="2874.1" x2="1066.5" y2="2894.3" stroke-width="3.2" />
<path d="M1008.8,2869.1 C1007.8,2870.1 1003.6,2872.6 1002.5,2875.4 C1001.4,2878.1 1002.5,2883.8 1002.5,2885.5" stroke-width="3.2" fill="none" />
<path d="M1013.9,2872.8 C1013.0,2874.1 1009.2,2877.9 1008.8,2880.4 C1008.4,2883.0 1010.9,2886.8 1011.4,2888.0" stroke-width="3.2" fill="none" />
<line x1="935.4" y1="2720.0" x2="1023.9" y2="2888.1" stroke-width="4.0" />
<line x1="940.7" y1="2717.2" x2="1029.2" y2="2885.4" stroke-width="4.0" />
<line x1="1112.2" y1="2668.2" x2="1026.3" y2="2885.6" stroke-width="4.0" />
<line x1="1117.8" y1="2670.4" x2="1031.8" y2="2887.9" stroke-width="4.0" />
<path d="M1017.7,2888.0 C1018.1,2889.5 1018.3,2895.6 1020.2,2896.9 C1022.1,2898.1 1026.9,2897.5 1029.1,2895.6 C1031.2,2893.7 1032.2,2887.2 1032.8,2885.5" stroke-width="3.8" fill="none" />
<circle cx="872.3" cy="2680.2" r="3.5" fill="#000" stroke="none"/>
<circle cx="938.0" cy="2718.1" r="3.5" fill="#000" stroke="none"/>
<circle cx="1064.5" cy="2648.3" r="3.5" fill="#000" stroke="none"/>
<circle cx="1115.0" cy="2668.5" r="3.5" fill="#000" stroke="none"/>
<path d="M906.0,3162.0 L1058.0,3119.0 L1103.0,3142.0 L949.0,3188.0 Z" stroke-width="3.8" fill="none" />
<path d="M906.0,3162.0 L906.0,3205.0 L949.0,3231.0 L949.0,3188.0" stroke-width="4.5" fill="none" />
<path d="M949.0,3231.0 L1103.0,3188.0 L1103.0,3142.0" stroke-width="3.8" fill="none" />
<line x1="949.0" y1="3188.0" x2="1103.0" y2="3142.0" stroke-width="5.0" />
<line x1="1004.5" y1="2884.0" x2="1004.5" y2="3110.0" stroke-width="3.2" />
<path d="M999.0,3097.0 L1010.0,3097.0 L1004.5,3153.0 Z" stroke-width="1.2" fill="#000" />
<text x="1157.6" y="627.0" font-size="60.6" textLength="37.9" lengthAdjust="spacingAndGlyphs" style="font-style:italic;font-weight:bold">4</text>
<text x="1221.0" y="656.0" font-size="60.6" textLength="71.0" lengthAdjust="spacingAndGlyphs" style="font-style:italic;font-weight:bold">69</text>
<text x="1252.2" y="752.0" font-size="66.7" textLength="41.7" lengthAdjust="spacingAndGlyphs" style="font-style:italic;font-weight:bold">2</text>
<text x="943.3" y="839.0" font-size="72.7" textLength="72.3" lengthAdjust="spacingAndGlyphs" style="font-style:italic;font-weight:bold">8A</text>
<text x="958.0" y="905.0" font-size="69.7" textLength="38.0" lengthAdjust="spacingAndGlyphs" style="font-style:italic;font-weight:bold">3</text>
<text x="873.3" y="930.0" font-size="72.7" textLength="45.5" lengthAdjust="spacingAndGlyphs" style="font-style:italic;font-weight:bold">8</text>
<text x="1214.0" y="950.0" font-size="75.8" textLength="40.0" lengthAdjust="spacingAndGlyphs" style="font-style:italic;font-weight:bold">1</text>
<text x="1342.6" y="864.0" font-size="65.2" textLength="40.7" lengthAdjust="spacingAndGlyphs" style="font-style:italic;font-weight:bold">8</text>
<text x="1583.3" y="1099.0" font-size="75.8" textLength="64.4" lengthAdjust="spacingAndGlyphs" style="font-style:italic;font-weight:bold">16</text>
<text x="928.0" y="1246.0" font-size="63.6" textLength="59.0" lengthAdjust="spacingAndGlyphs" style="font-style:italic;font-weight:bold">36</text>
<text x="635.5" y="905.0" font-size="59.1" textLength="36.9" lengthAdjust="spacingAndGlyphs" style="font-style:italic;font-weight:bold">4</text>
<text x="762.7" y="920.0" font-size="71.2" textLength="44.5" lengthAdjust="spacingAndGlyphs" style="font-style:italic;font-weight:bold">2</text>
<text x="686.0" y="1151.0" font-size="66.7" textLength="34.0" lengthAdjust="spacingAndGlyphs" style="font-style:italic;font-weight:bold">3</text>
<text x="257.4" y="1373.0" font-size="69.7" textLength="59.2" lengthAdjust="spacingAndGlyphs" style="font-style:italic;font-weight:bold">13</text>
<text x="422.0" y="1382.0" font-size="59.1" textLength="36.0" lengthAdjust="spacingAndGlyphs" style="font-style:italic;font-weight:bold">5</text>
<text x="675.0" y="1513.0" font-size="62.1" textLength="71.0" lengthAdjust="spacingAndGlyphs" style="font-style:italic;font-weight:bold">14</text>
<text x="887.6" y="1498.0" font-size="72.7" textLength="61.8" lengthAdjust="spacingAndGlyphs" style="font-style:italic;font-weight:bold">15</text>
<text x="257.6" y="1638.0" font-size="72.7" textLength="61.8" lengthAdjust="spacingAndGlyphs" style="font-style:italic;font-weight:bold">80</text>
<text x="362.0" y="1635.0" font-size="65.2" textLength="28.0" lengthAdjust="spacingAndGlyphs" style="font-style:italic;font-weight:bold">7</text>
<text x="690.0" y="1777.0" font-size="69.7" textLength="36.0" lengthAdjust="spacingAndGlyphs" style="font-style:italic;font-weight:bold">8</text>
<text x="808.6" y="2090.0" font-size="60.6" textLength="37.9" lengthAdjust="spacingAndGlyphs" style="font-style:italic;font-weight:bold">4</text>
<text x="1071.0" y="1735.0" font-size="68.2" textLength="91.0" lengthAdjust="spacingAndGlyphs" style="font-style:italic;font-weight:bold">304</text>
<text x="993.0" y="1791.0" font-size="62.1" textLength="33.0" lengthAdjust="spacingAndGlyphs" style="font-style:italic;font-weight:bold">3</text>
<text x="962.0" y="1849.0" font-size="65.2" textLength="83.1" lengthAdjust="spacingAndGlyphs" style="font-style:italic;font-weight:bold">305</text>
<text x="1142.0" y="1814.0" font-size="62.1" textLength="33.0" lengthAdjust="spacingAndGlyphs" style="font-style:italic;font-weight:bold">8</text>
<text x="1114.0" y="1910.0" font-size="65.2" textLength="102.0" lengthAdjust="spacingAndGlyphs" style="font-style:italic;font-weight:bold">303</text>
<text x="1062.1" y="2027.0" font-size="62.1" textLength="38.8" lengthAdjust="spacingAndGlyphs" style="font-style:italic;font-weight:bold">2</text>
<text x="1013.0" y="2115.0" font-size="68.2" textLength="104.0" lengthAdjust="spacingAndGlyphs" style="font-style:italic;font-weight:bold">302</text>
<text x="980.0" y="2248.0" font-size="68.2" textLength="94.0" lengthAdjust="spacingAndGlyphs" style="font-style:italic;font-weight:bold">301</text>
<text x="1254.0" y="1536.0" font-size="68.2" textLength="35.0" lengthAdjust="spacingAndGlyphs" style="font-style:italic;font-weight:bold">3</text>
<text x="1450.0" y="1637.0" font-size="72.7" textLength="44.0" lengthAdjust="spacingAndGlyphs" style="font-style:italic;font-weight:bold">2</text>
<text x="1349.1" y="1811.0" font-size="62.1" textLength="38.8" lengthAdjust="spacingAndGlyphs" style="font-style:italic;font-weight:bold">4</text>
<text x="1471.0" y="1369.0" font-size="68.2" textLength="61.0" lengthAdjust="spacingAndGlyphs" style="font-style:italic;font-weight:bold">34</text>
<text x="1003.4" y="1506.0" font-size="80.3" textLength="68.3" lengthAdjust="spacingAndGlyphs" style="font-style:italic;font-weight:bold">36</text>
<text x="1831.0" y="1068.0" font-size="72.7" textLength="36.0" lengthAdjust="spacingAndGlyphs" style="font-style:italic;font-weight:bold">6</text>
<text x="1912.0" y="1121.0" font-size="77.3" textLength="106.0" lengthAdjust="spacingAndGlyphs" style="font-style:italic;font-weight:bold">300</text>
<text x="600.0" y="2345.0" font-size="84.8" textLength="40.0" lengthAdjust="spacingAndGlyphs" style="font-style:italic;font-weight:bold">9</text>
<text x="1323.0" y="2264.0" font-size="77.3" textLength="40.0" lengthAdjust="spacingAndGlyphs" style="font-style:italic;font-weight:bold">9</text>
<text x="778.7" y="2848.0" font-size="77.3" textLength="65.7" lengthAdjust="spacingAndGlyphs" style="font-style:italic;font-weight:bold">10</text>
<text x="941.2" y="2713.0" font-size="81.8" textLength="69.5" lengthAdjust="spacingAndGlyphs" style="font-style:italic;font-weight:bold">11</text>
<text x="1049.3" y="3046.0" font-size="75.8" textLength="64.4" lengthAdjust="spacingAndGlyphs" style="font-style:italic;font-weight:bold">12</text>
<text x="1149.0" y="3127.0" font-size="69.7" textLength="75.0" lengthAdjust="spacingAndGlyphs" style="font-style:italic;font-weight:bold">83</text>
<line x1="250.0" y1="1378.0" x2="302.0" y2="1378.0" stroke-width="3.8" />
<line x1="668.0" y1="1517.0" x2="735.0" y2="1517.0" stroke-width="3.8" />
<line x1="792.0" y1="2094.0" x2="848.0" y2="2094.0" stroke-width="3.8" />
<line x1="1340.0" y1="1815.0" x2="1380.0" y2="1815.0" stroke-width="3.8" />
<text x="393" y="677" font-size="97" textLength="88" lengthAdjust="spacingAndGlyphs" style="font-style:italic;font-weight:bold">F</text>
<text x="481" y="677" font-size="97" textLength="28" lengthAdjust="spacingAndGlyphs" style="font-style:italic;font-weight:bold">i</text>
<text x="506" y="678" font-size="100" textLength="50" lengthAdjust="spacingAndGlyphs" style="font-style:italic;font-weight:bold">c</text>
<path d="M566,634 C565,650 563,664 558,680" stroke-width="9.5" fill="none" />
<path d="M558,680 C553,700 540,716 520,722 C503,727 488,722 486,712" stroke-width="5.2" fill="none" />
<circle cx="489" cy="709" r="6.5" fill="#000" stroke="none"/>
<line x1="546.0" y1="635.0" x2="601.0" y2="633.0" stroke-width="5.2" />
<circle cx="594" cy="667.5" r="6.5" fill="#000" stroke="none"/>
<text x="610" y="680" font-size="100" textLength="82" lengthAdjust="spacingAndGlyphs" style="font-style:italic;font-weight:bold">2</text>
<circle cx="696" cy="670.5" r="8" fill="#000" stroke="none"/>
<line x1="346.0" y1="675.0" x2="423.0" y2="676.0" stroke-width="5.0" />
<line x1="440.0" y1="747.0" x2="474.0" y2="677.0" stroke-width="4.5" />
<path d="M1082.0,621.0 C1087.0,619.3 1100.7,612.7 1112.0,611.0 C1123.3,609.3 1143.7,611.0 1150.0,611.0" stroke-width="3.2" fill="none" />
<path d="M1077.0,655.0 C1077.5,656.5 1076.2,663.0 1080.0,664.0 C1083.8,665.0 1077.5,665.2 1100.0,661.0 C1122.5,656.8 1195.8,642.7 1215.0,639.0" stroke-width="3.2" fill="none" />
<path d="M1177.0,691.0 C1180.5,695.3 1184.8,711.0 1198.0,717.0 C1211.2,723.0 1246.3,725.3 1256.0,727.0" stroke-width="3.2" fill="none" />
<path d="M997.0,881.0 C1004.3,881.0 1030.5,879.2 1041.0,881.0 C1051.5,882.8 1056.8,890.2 1060.0,892.0" stroke-width="3.2" fill="none" />
<line x1="840.0" y1="919.0" x2="874.0" y2="917.0" stroke-width="3.2" />
<path d="M916.0,919.0 C925.5,920.8 950.8,929.3 973.0,930.0 C995.2,930.7 1021.8,927.3 1049.0,923.0 C1076.2,918.7 1121.5,907.2 1136.0,904.0" stroke-width="3.2" fill="none" />
<path d="M1253.0,919.0 C1256.8,924.7 1273.5,942.3 1276.0,953.0 C1278.5,963.7 1269.3,978.0 1268.0,983.0" stroke-width="3.2" fill="none" />
<path d="M1377.0,864.0 C1377.3,867.5 1383.8,877.2 1379.0,885.0 C1374.2,892.8 1353.2,906.7 1348.0,911.0" stroke-width="3.2" fill="none" />
<line x1="1629.0" y1="1104.0" x2="1632.0" y2="1166.0" stroke-width="3.2" />
<path d="M1829.0,1056.0 C1822.5,1059.2 1804.3,1067.7 1790.0,1075.0 C1775.7,1082.3 1750.8,1095.8 1743.0,1100.0" stroke-width="3.2" fill="none" />
<line x1="987.0" y1="1241.0" x2="1002.0" y2="1243.0" stroke-width="3.2" />
<path d="M1068.0,1476.0 C1071.3,1472.7 1084.5,1462.8 1088.0,1456.0 C1091.5,1449.2 1088.8,1438.5 1089.0,1435.0" stroke-width="3.2" fill="none" />
<path d="M880.0,1481.0 C875.8,1480.5 860.3,1480.5 855.0,1478.0 C849.7,1475.5 848.0,1472.3 848.0,1466.0 C848.0,1459.7 853.8,1444.3 855.0,1440.0" stroke-width="3.2" fill="none" />
<path d="M671.0,1410.0 C670.3,1417.5 665.8,1441.8 667.0,1455.0 C668.2,1468.2 676.2,1483.3 678.0,1489.0" stroke-width="3.2" fill="none" />
<path d="M277.0,1373.0 C273.8,1381.8 261.7,1412.8 258.0,1426.0 C254.3,1439.2 255.5,1447.7 255.0,1452.0" stroke-width="3.2" fill="none" />
<path d="M290.0,1578.0 C292.7,1568.5 302.8,1535.7 306.0,1521.0 C309.2,1506.3 308.5,1495.2 309.0,1490.0" stroke-width="3.2" fill="none" />
<path d="M388.0,1603.0 C393.3,1597.3 411.5,1582.7 420.0,1569.0 C428.5,1555.3 435.8,1529.0 439.0,1521.0" stroke-width="3.2" fill="none" />
<path d="M718.0,1130.0 C721.3,1128.3 730.5,1125.3 738.0,1120.0 C745.5,1114.7 758.8,1101.7 763.0,1098.0" stroke-width="3.2" fill="none" />
<path d="M624.0,894.0 C620.2,895.8 606.8,901.5 601.0,905.0 C595.2,908.5 591.0,913.3 589.0,915.0" stroke-width="3.2" fill="none" />
<path d="M766.0,893.0 C758.8,897.2 732.7,908.8 723.0,918.0 C713.3,927.2 710.5,943.0 708.0,948.0" stroke-width="3.2" fill="none" />
<path d="M726.0,1764.0 C728.0,1766.5 738.8,1770.5 738.0,1779.0 C737.2,1787.5 723.8,1809.0 721.0,1815.0" stroke-width="3.2" fill="none" />
<path d="M993.0,1776.0 C986.7,1779.7 966.0,1795.2 955.0,1798.0 C944.0,1800.8 931.7,1793.8 927.0,1793.0" stroke-width="3.2" fill="none" />
<line x1="970.0" y1="1830.0" x2="950.0" y2="1826.0" stroke-width="3.2" />
<line x1="1142.0" y1="1788.0" x2="1120.0" y2="1781.0" stroke-width="3.2" />
<path d="M1064.0,2002.0 C1059.7,2000.3 1045.2,1998.3 1038.0,1992.0 C1030.8,1985.7 1023.8,1968.7 1021.0,1964.0" stroke-width="3.2" fill="none" />
<line x1="851.0" y1="2052.0" x2="897.0" y2="2014.0" stroke-width="3.2" />
<path d="M975.0,2223.0 C968.3,2222.2 946.7,2220.5 935.0,2218.0 C923.3,2215.5 910.0,2209.7 905.0,2208.0" stroke-width="3.2" fill="none" />
<path d="M1286.0,1538.0 C1285.2,1540.5 1285.5,1547.0 1281.0,1553.0 C1276.5,1559.0 1264.3,1567.7 1259.0,1574.0 C1253.7,1580.3 1249.8,1585.8 1249.0,1591.0 C1248.2,1596.2 1253.2,1602.7 1254.0,1605.0" stroke-width="3.2" fill="none" />
<path d="M1489.0,1616.0 C1489.8,1619.5 1495.7,1627.7 1494.0,1637.0 C1492.3,1646.3 1481.5,1666.2 1479.0,1672.0" stroke-width="3.2" fill="none" />
<line x1="1390.0" y1="1788.0" x2="1400.0" y2="1766.0" stroke-width="3.2" />
<line x1="645.0" y1="2325.0" x2="678.0" y2="2316.0" stroke-width="3.2" />
<path d="M1333.0,2264.0 C1327.8,2269.8 1311.7,2292.3 1302.0,2299.0 C1292.3,2305.7 1279.5,2303.2 1275.0,2304.0" stroke-width="3.2" fill="none" />
<line x1="851.0" y1="2822.0" x2="886.0" y2="2835.0" stroke-width="3.2" />
<path d="M996.0,2701.0 C997.0,2704.3 1003.5,2710.8 1002.0,2721.0 C1000.5,2731.2 989.5,2755.2 987.0,2762.0" stroke-width="3.2" fill="none" />
<path d="M1050.0,3031.0 C1046.7,3030.2 1037.2,3026.5 1030.0,3026.0 C1022.8,3025.5 1010.8,3027.7 1007.0,3028.0" stroke-width="3.2" fill="none" />
<path d="M1149.0,3107.0 C1141.8,3108.2 1121.7,3109.8 1106.0,3114.0 C1090.3,3118.2 1063.5,3129.0 1055.0,3132.0" stroke-width="3.2" fill="none" />
<path d="M1071.0,1712.0 C1065.2,1712.8 1044.3,1714.3 1036.0,1717.0 C1027.7,1719.7 1023.5,1726.2 1021.0,1728.0" stroke-width="3.2" fill="none" stroke-dasharray="16 8"/>
<path d="M1112.0,1884.0 C1109.0,1887.3 1098.2,1895.2 1094.0,1904.0 C1089.8,1912.8 1088.2,1931.5 1087.0,1937.0" stroke-width="3.2" fill="none" stroke-dasharray="16 8"/>
<path d="M1010.0,2094.0 C1005.5,2093.8 989.2,2095.7 983.0,2093.0 C976.8,2090.3 971.3,2085.7 973.0,2078.0 C974.7,2070.3 988.5,2055.5 993.0,2047.0 C997.5,2038.5 998.8,2030.3 1000.0,2027.0" stroke-width="3.2" fill="none" stroke-dasharray="16 8"/>
<line x1="1536.0" y1="1343.0" x2="1559.0" y2="1318.0" stroke-width="3.2" stroke-dasharray="12 8"/>
<path d="M691.0,2313.0 L673.2,2323.9 L670.1,2312.2 Z" stroke-width="1.2" fill="#000" />
<path d="M1262.0,2305.0 L1281.1,2296.6 L1282.6,2308.5 Z" stroke-width="1.2" fill="#000" />
<path d="M856.0,1428.0 L859.9,1450.5 L848.0,1449.3 Z" stroke-width="1.2" fill="#000" />
<path d="M1573.0,1292.0 L1567.7,1316.4 L1555.4,1309.7 Z" stroke-width="1.2" fill="#000" />
<line x1="905.0" y1="2200.0" x2="905.0" y2="2216.0" stroke-width="3.2" />
<path d="M1010.0,740.0 C1008.3,742.0 1001.0,747.8 1000.0,752.0 C999.0,756.2 1005.3,760.3 1004.0,765.0 C1002.7,769.7 993.7,775.0 992.0,780.0 C990.3,785.0 995.2,790.7 994.0,795.0 C992.8,799.3 986.5,804.2 985.0,806.0" stroke-width="3.0" fill="none" />
<path d="M1020.0,738.0 C1018.7,741.0 1013.0,750.7 1012.0,756.0 C1011.0,761.3 1015.5,764.7 1014.0,770.0 C1012.5,775.3 1004.8,785.0 1003.0,788.0" stroke-width="3.0" fill="none" />
<path d="M3.0,1060.0 L4.0,1060.0 L11.0,3358.0 L3.0,3358.0 Z" stroke-width="0.1" fill="#000" />
<rect x="3" y="1010" width="1.2" height="1.2" fill="#000" stroke="none"/>
<rect x="3" y="1028" width="1.2" height="1.2" fill="#000" stroke="none"/>
<rect x="3" y="1048" width="1.2" height="1.2" fill="#000" stroke="none"/>
</svg>
</body></html>
